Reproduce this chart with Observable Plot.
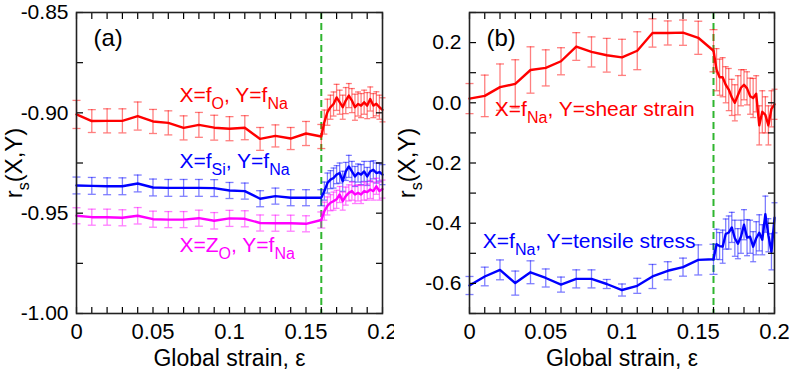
<!DOCTYPE html>
<html><head><meta charset="utf-8">
<script src="https://cdn.jsdelivr.net/npm/d3@7"></script>
<script src="https://cdn.jsdelivr.net/npm/@observablehq/plot@0.6"></script>
<style>
html,body{margin:0;padding:0;background:#fff;}
#wrap{display:flex;width:789px;height:370px;}
g[aria-label="x-axis tick label"]{font-size:22px;}
g[aria-label="y-axis tick label"]{font-size:21px;}
</style></head><body><div id="wrap"></div>
<script>
// ---- data ----
const strainCoarse = [0,0.01,0.02,0.03,0.04,0.05,0.06,0.07,0.08,0.09,0.10,0.11,0.12,0.13,0.14,0.15,0.16];
const strainDense = [0.162,0.164,0.166,0.168,0.170,0.172,0.174,0.176,0.178,0.180,0.182,0.184,0.186,0.188,0.190,0.192,0.194,0.196,0.198,0.200];

// panel (a)
const aRedC   = [-0.9008,-0.9041,-0.9040,-0.9040,-0.9016,-0.9043,-0.9050,-0.9075,-0.9060,-0.9074,-0.9079,-0.9074,-0.9130,-0.9115,-0.9128,-0.9103,-0.9118];
const aRedCE  = [0.0070,0.0057,0.0060,0.0060,0.0070,0.0060,0.0060,0.0060,0.0062,0.0062,0.0060,0.0060,0.0057,0.0055,0.0055,0.0060,0.0060];
const aRedD   = [-0.9046,-0.8997,-0.8972,-0.8956,-0.8923,-0.8947,-0.8972,-0.8939,-0.8914,-0.8939,-0.8972,-0.8956,-0.8964,-0.8947,-0.8964,-0.8931,-0.8964,-0.8955,-0.8972,-0.8985];
const aRedDE  = [0.0060,0.0065,0.0060,0.0060,0.0065,0.0060,0.0060,0.0065,0.0060,0.0060,0.0065,0.0060,0.0060,0.0060,0.0065,0.0060,0.0060,0.0060,0.0060,0.0060];
const aBlueC  = [-0.9362,-0.9364,-0.9366,-0.9366,-0.9352,-0.9372,-0.9374,-0.9374,-0.9374,-0.9375,-0.9387,-0.9390,-0.9428,-0.9415,-0.9423,-0.9423,-0.9423];
const aBlueCE = [0.0042,0.0042,0.0042,0.0042,0.0042,0.0042,0.0042,0.0042,0.0042,0.0042,0.0040,0.0040,0.0040,0.0040,0.0040,0.0040,0.0040];
const aBlueD  = [-0.9390,-0.9350,-0.9333,-0.9325,-0.9308,-0.9300,-0.9341,-0.9292,-0.9267,-0.9292,-0.9317,-0.9300,-0.9308,-0.9292,-0.9317,-0.9292,-0.9284,-0.9300,-0.9295,-0.9308];
const aBlueDE = [0.0045,0.0050,0.0045,0.0050,0.0045,0.0050,0.0050,0.0045,0.0055,0.0050,0.0050,0.0045,0.0050,0.0050,0.0045,0.0050,0.0045,0.0050,0.0045,0.0050];
const aMagC   = [-0.9513,-0.9520,-0.9520,-0.9523,-0.9513,-0.9530,-0.9532,-0.9532,-0.9525,-0.9538,-0.9526,-0.9528,-0.9549,-0.9550,-0.9550,-0.9553,-0.9534];
const aMagCE  = [0.0040,0.0040,0.0040,0.0040,0.0041,0.0040,0.0040,0.0040,0.0040,0.0041,0.0040,0.0040,0.0040,0.0040,0.0040,0.0040,0.0040];
const aMagD   = [-0.9490,-0.9464,-0.9448,-0.9440,-0.9431,-0.9407,-0.9440,-0.9415,-0.9399,-0.9390,-0.9407,-0.9399,-0.9407,-0.9390,-0.9395,-0.9382,-0.9390,-0.9366,-0.9390,-0.9380];
const aMagDE  = [0.0045,0.0045,0.0040,0.0045,0.0045,0.0040,0.0045,0.0045,0.0040,0.0045,0.0045,0.0040,0.0045,0.0045,0.0040,0.0045,0.0045,0.0040,0.0045,0.0045];

// panel (b)
const bRedC   = [0.014,0.023,0.052,0.063,0.109,0.116,0.138,0.187,0.169,0.158,0.151,0.173,0.232,0.232,0.233,0.216,0.173];
const bRedCE  = [0.050,0.069,0.077,0.080,0.077,0.060,0.045,0.046,0.050,0.056,0.060,0.063,0.047,0.040,0.042,0.055,0.070];
const bRedD   = [0.110,0.085,0.085,0.060,0.044,0.018,0.000,0.025,0.050,0.060,0.048,0.022,0.016,0.030,-0.075,-0.030,-0.040,-0.075,-0.020,-0.005];
const bRedDE  = [0.070,0.060,0.065,0.060,0.070,0.060,0.060,0.065,0.060,0.050,0.055,0.060,0.065,0.060,0.065,0.070,0.060,0.065,0.060,0.050];
const bBlueC  = [-0.607,-0.577,-0.555,-0.599,-0.563,-0.582,-0.604,-0.585,-0.585,-0.602,-0.622,-0.608,-0.577,-0.558,-0.546,-0.522,-0.520];
const bBlueCE = [0.030,0.031,0.033,0.040,0.038,0.030,0.025,0.030,0.030,0.015,0.020,0.025,0.040,0.030,0.030,0.050,0.050];
const bBlueD  = [-0.470,-0.476,-0.478,-0.436,-0.431,-0.414,-0.450,-0.468,-0.445,-0.405,-0.448,-0.445,-0.478,-0.450,-0.432,-0.455,-0.370,-0.440,-0.495,-0.382];
const bBlueDE = [0.050,0.045,0.055,0.050,0.055,0.050,0.060,0.050,0.055,0.050,0.060,0.055,0.050,0.055,0.060,0.050,0.060,0.055,0.060,0.050];

// ticks & labels
const xMinorTicks = [0,0.01,0.02,0.03,0.04,0.05,0.06,0.07,0.08,0.09,0.10,0.11,0.12,0.13,0.14,0.15,0.16,0.17,0.18,0.19,0.20];
const xTickVals = [0,0.05,0.1,0.15,0.2];
const xTickLabels = ["0","0.05","0.1","0.15","0.2"];
const aYMinor = [-1,-0.975,-0.95,-0.925,-0.9,-0.875,-0.85];
const aYTickVals = [-1,-0.95,-0.9,-0.85];
const aYTickLabels = ["-1.00","-0.95","-0.90","-0.85"];
const bYMinor = [-0.7,-0.6,-0.5,-0.4,-0.3,-0.2,-0.1,0,0.1,0.2,0.3];
const bYTickVals = [-0.6,-0.4,-0.2,0,0.2];
const bYTickLabels = ["-0.6","-0.4","-0.2","0.0","0.2"];
const transitionStrain = [0.16];
const xTitle = "Global strain, ε";
const yTitle = "r_{s}(X,Y)";
const aNotes = ["X=f_{O}, Y=f_{Na}", "X=f_{Si}, Y=f_{Na}", "X=Z_{O}, Y=f_{Na}"];
const bNotes = ["X=f_{Na}, Y=shear strain", "X=f_{Na}, Y=tensile stress"];
const tags = ["(a)", "(b)"];

// ---- helpers ----
function rows(cy, ce, dy, de) {
  const r = strainCoarse.map((x, i) => ({x, y: cy[i], e: ce[i], dense: false}));
  return r.concat(strainDense.map((x, i) => ({x, y: dy[i], e: de[i], dense: true})));
}
const capSymbol = {draw(ctx, size) { const w = Math.sqrt(size / Math.PI); ctx.moveTo(-w, 0); ctx.lineTo(w, 0); }};

function seriesMarks(data, color) {
  const coarse = data.filter(d => !d.dense), dense = data.filter(d => d.dense);
  const eb = {stroke: color, strokeOpacity: 0.5, strokeWidth: 1.3};
  return [
    Plot.ruleX(data, {x: "x", y1: d => d.y - d.e, y2: d => d.y + d.e, ...eb}),
    Plot.dot(coarse, {x: "x", y: d => d.y + d.e, symbol: capSymbol, r: 4, fill: "none", ...eb}),
    Plot.dot(coarse, {x: "x", y: d => d.y - d.e, symbol: capSymbol, r: 4, fill: "none", ...eb}),
    Plot.dot(dense, {x: "x", y: d => d.y + d.e, symbol: capSymbol, r: 3, fill: "none", ...eb}),
    Plot.dot(dense, {x: "x", y: d => d.y - d.e, symbol: capSymbol, r: 3, fill: "none", ...eb}),
    Plot.line(data, {x: "x", y: "y", stroke: color, strokeWidth: 2.4})
  ];
}

function richify(svg) {
  svg.querySelectorAll("text").forEach(t => {
    const s = t.textContent;
    if (!s.includes("_{")) return;
    const big = parseFloat(t.getAttribute("font-size")) || 21;
    const sub = Math.round(big * 0.75), shift = Math.round(big * 0.33);
    while (t.firstChild) t.removeChild(t.firstChild);
    const parts = s.split(/(_\{[^}]*\})/);
    let shifted = false;
    for (const p of parts) {
      if (!p) continue;
      const ts = document.createElementNS("http://www.w3.org/2000/svg", "tspan");
      if (p.startsWith("_{")) {
        ts.textContent = p.slice(2, -1);
        ts.setAttribute("font-size", sub);
        ts.setAttribute("dy", shift);
        shifted = true;
      } else {
        ts.textContent = p;
        if (shifted) { ts.setAttribute("dy", -shift); shifted = false; }
      }
      t.appendChild(ts);
    }
  });
  return svg;
}

function panel({width, marginLeft, marginRight, yDomain, yMinor, yTickVals, yTickLabels, series, notes, tag}) {
  return richify(Plot.plot({
    width, height: 370, marginLeft, marginRight, marginTop: 12, marginBottom: 57,
    style: {fontFamily: "'Liberation Sans', Arial, sans-serif", fontSize: "21px", color: "black", background: "white", overflow: "visible"},
    x: {domain: [0, 0.2]},
    y: {domain: yDomain},
    marks: [
      Plot.ruleX(transitionStrain, {stroke: "#2fb52f", strokeWidth: 2, strokeDasharray: "7,4"}),
      ...series.flatMap(s => seriesMarks(s.data, s.color)),
      ...notes,
      Plot.axisX(xMinorTicks, {anchor: "bottom", tickSize: -6, tickFormat: () => "", label: null, strokeWidth: 1.2}),
      Plot.axisX(xMinorTicks, {anchor: "top", tickSize: -6, tickFormat: () => "", label: null, strokeWidth: 1.2}),
      Plot.axisX(xTickVals, {anchor: "bottom", tickSize: 0, tickPadding: 10, tickFormat: d => xTickLabels[xTickVals.indexOf(d)], label: null}),
      Plot.axisY(yMinor, {anchor: "left", tickSize: -7, tickFormat: () => "", label: null, strokeWidth: 1.2}),
      Plot.axisY(yMinor, {anchor: "right", tickSize: -7, tickFormat: () => "", label: null, strokeWidth: 1.2}),
      Plot.axisY(yTickVals, {anchor: "left", tickSize: 0, tickPadding: 8, tickFormat: d => yTickLabels[yTickVals.indexOf(d)], label: null}),
      Plot.frame({stroke: "#222", strokeWidth: 1.6}),
      Plot.text([xTitle], {frameAnchor: "bottom", dy: 52, lineAnchor: "bottom", fontSize: 23}),
      Plot.text([yTitle], {frameAnchor: "left", rotate: -90, dx: -55, lineAnchor: "bottom", textAnchor: "middle", fontSize: 24}),
      Plot.text([tag], {frameAnchor: "top-left", dx: 17, dy: 16, lineAnchor: "top", textAnchor: "start", fontSize: 24})
    ]
  }));
}

const wrap = document.getElementById("wrap");
wrap.appendChild(panel({
  width: 394, marginLeft: 76, marginRight: 12,
  yDomain: [-1, -0.85], yMinor: aYMinor, yTickVals: aYTickVals, yTickLabels: aYTickLabels,
  series: [
    {data: rows(aRedC, aRedCE, aRedD, aRedDE), color: "#ff0000"},
    {data: rows(aBlueC, aBlueCE, aBlueD, aBlueDE), color: "#0000ff"},
    {data: rows(aMagC, aMagCE, aMagD, aMagDE), color: "#ff00ff"}
  ],
  notes: [
    Plot.text([aNotes[0]], {x: 0.0673, y: -0.8948, textAnchor: "start", lineAnchor: "bottom", fill: "#ff0000", fontSize: 21}),
    Plot.text([aNotes[1]], {x: 0.0673, y: -0.9277, textAnchor: "start", lineAnchor: "bottom", fill: "#0000ff", fontSize: 21}),
    Plot.text([aNotes[2]], {x: 0.0673, y: -0.9695, textAnchor: "start", lineAnchor: "bottom", fill: "#ff00ff", fontSize: 21})
  ],
  tag: tags[0]
}));
wrap.appendChild(panel({
  width: 395, marginLeft: 75, marginRight: 15,
  yDomain: [-0.7, 0.3], yMinor: bYMinor, yTickVals: bYTickVals, yTickLabels: bYTickLabels,
  series: [
    {data: rows(bRedC, bRedCE, bRedD, bRedDE), color: "#ff0000"},
    {data: rows(bBlueC, bBlueCE, bBlueD, bBlueDE), color: "#0000ff"}
  ],
  notes: [
    Plot.text([bNotes[0]], {x: 0.0166, y: -0.043, textAnchor: "start", lineAnchor: "bottom", fill: "#ff0000", fontSize: 21}),
    Plot.text([bNotes[1]], {x: 0.0087, y: -0.481, textAnchor: "start", lineAnchor: "bottom", fill: "#0000ff", fontSize: 21})
  ],
  tag: tags[1]
}));
</script></body></html>
